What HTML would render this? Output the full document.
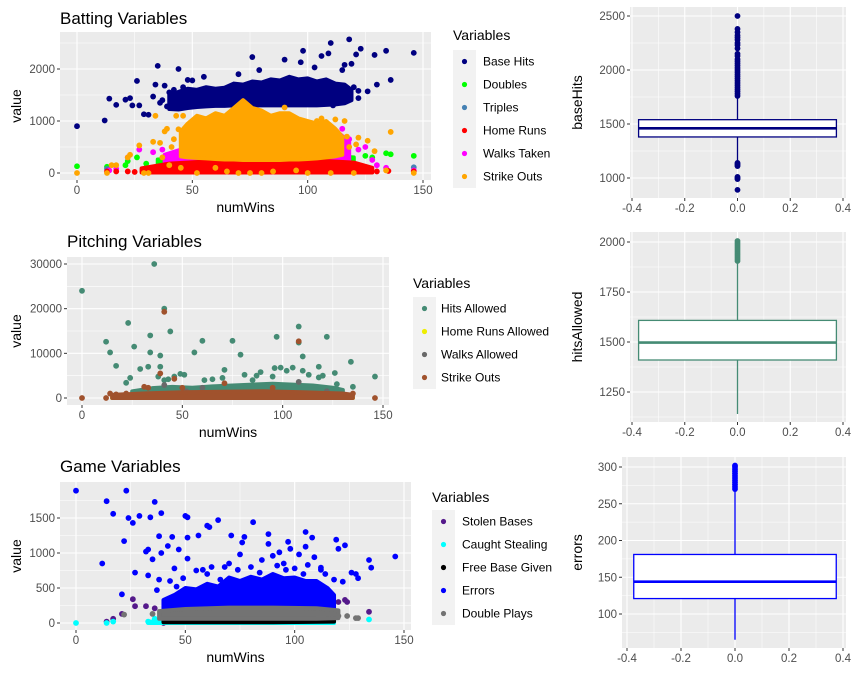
<!DOCTYPE html>
<html><head><meta charset="utf-8">
<style>
html,body{margin:0;padding:0;background:#fff;}
svg{display:block;font-family:"Liberation Sans",Arial,sans-serif;}
</style></head>
<body>
<svg id="chart" width="854" height="675" viewBox="0 0 854 675"></svg>
<script>
// ---------- DATA ----------
// Batting panel
const batBins = [40,44,48,52,56,60,64,68,72,76,80,84,88,92,96,100,104,108,112,116,119];
const baseHitsLo = [1230,1220,1250,1270,1280,1290,1290,1300,1300,1300,1300,1300,1300,1300,1300,1300,1300,1310,1320,1340,1400];
const baseHitsHi = [1500,1560,1620,1600,1650,1620,1640,1720,1700,1760,1740,1800,1780,1850,1800,1820,1760,1800,1720,1700,1600];
const baseHitsOut = [[0,900],[12,1010],[14,1430],[17,1310],[21,1410],[23,1440],[24,1300],[26,1770],[27,1300],[29,1130],[31,1120],[33,1470],[34,1700],[35,2060],[36,1350],[38,1680],[39,1280],[42,1600],[44,2000],[46,1650],[48,1790],[50,1780],[55,1850],[70,1900],[76,2230],[79,1980],[90,2180],[97,2130],[98,2350],[103,2030],[106,2250],[109,2300],[110,2500],[116,2080],[118,2570],[121,2280],[123,2390],[126,1570],[129,2270],[130,1700],[134,2350],[136,1790],[146,2310],[119,2100],[122,1440],[111,1300],[115,1980],[40,1550],[43,1480],[37,1400],[120,1650],[122,1580],[117,1620]];
const soBins = [45,48,52,56,60,64,68,72,76,80,84,88,92,96,100,104,108,112,115];
const soLo = [320,300,290,280,270,260,260,250,250,250,250,250,260,260,270,280,300,320,350];
const soHi = [800,950,1100,1050,1150,1100,1250,1400,1250,1200,1100,1150,1150,1050,1000,950,1000,850,700];
const soOut = [[0,0],[13,0],[15,150],[17,150],[22,300],[23,350],[27,530],[29,0],[31,0],[33,600],[34,1100],[36,580],[37,300],[38,800],[39,850],[40,150],[43,1100],[44,840],[46,1100],[49,950],[52,0],[60,100],[70,0],[75,0],[80,0],[90,1260],[100,0],[104,1000],[106,1050],[111,350],[112,1030],[116,1000],[117,700],[121,550],[122,680],[126,620],[129,420],[134,50],[136,790],[146,0],[110,0],[120,0],[95,50],[85,30],[65,30],[45,100],[42,650],[41,500],[118,500]];
const walksBins = [38,45,50,60,70,80,90,100,108,114,118];
const walksLo = [150,150,120,100,100,100,100,100,120,150,150];
const walksHi = [350,450,480,500,500,500,500,550,650,750,600];
const walksOut = [[22,300],[27,450],[33,400],[37,450],[115,850],[118,650],[122,450],[125,500],[128,250],[130,150],[134,100],[146,50],[14,50],[17,80]];
const dblBins = [35,50,70,90,110,120];
const dblLo = [150,150,150,150,150,150];
const dblHi = [260,290,300,300,320,300];
const dblOut = [[0,130],[13,120],[21,150],[22,230],[26,300],[30,180],[117,400],[125,330],[128,300],[134,380],[136,360],[146,330]];
const triOut = [[13,80],[146,110],[120,100],[105,60]];
const hrBins = [28,40,60,80,100,120,128];
const hrLo = [10,10,10,10,10,10,10];
const hrHi = [90,180,230,260,250,200,100];
const hrOut = [[13,30],[17,30],[22,30],[135,40],[146,30],[25,20],[130,30]];

// Pitching panel
const pitBins = [25,35,45,55,65,75,85,95,105,115,125,130];
const haLo = [0,0,0,0,0,0,0,0,0,0,0,0];
const haHi = [1500,2200,2500,2300,2600,2800,3000,3200,3000,2800,2300,1800];
const haOut = [[0,24000],[12,12600],[14,10200],[17,7200],[22,3400],[23,16800],[24,4500],[26,11500],[29,6500],[33,7000],[34,14000],[34,10200],[36,30000],[38,4800],[39,9500],[39,7000],[41,20000],[41,4000],[43,4200],[44,14900],[46,4800],[49,5400],[51,5200],[56,10200],[60,12800],[61,4000],[65,4200],[71,6300],[75,12800],[79,9700],[81,5200],[87,5000],[89,5800],[96,6700],[97,13700],[99,6800],[102,6100],[105,6800],[108,16000],[108,12400],[110,9300],[110,6100],[113,5200],[118,7000],[118,4600],[120,5000],[122,13700],[126,5600],[127,3100],[134,8100],[135,2500],[146,4800],[95,4800],[70,4500],[85,4000]];
const hraBins = [15,40,80,120,135];
const hraLo = [0,0,0,0,0];
const hraHi = [100,150,150,150,100];
const waBins = [20,40,70,100,130];
const waLo = [0,0,0,0,0];
const waHi = [700,900,1000,1000,800];
const waOut = [[41,2900],[60,2300],[108,3600],[122,1500],[52,1500]];
const psoBins = [15,30,50,70,90,110,130,135];
const psoLo = [0,0,0,0,0,0,0,0];
const psoHi = [700,1000,1300,1400,1500,1300,1000,700];
const psoOut = [[0,0],[12,0],[14,1000],[17,800],[22,1000],[31,2500],[33,2300],[39,5500],[41,19300],[46,4300],[50,2300],[71,3300],[95,2300],[108,12700],[135,1000],[146,0],[129,500],[134,200]];

// Game panel
const errBins = [40,45,50,55,60,65,70,75,80,85,90,95,100,105,110,115,118];
const errLo = [200,200,200,200,200,200,200,200,200,200,200,200,200,200,200,210,220];
const errHi = [330,400,500,480,560,520,650,600,660,620,700,640,650,600,600,500,400];
const errOut = [[0,1890],[12,850],[14,1740],[17,1560],[21,410],[22,1170],[23,1890],[24,1500],[26,1430],[27,720],[29,1530],[32,1020],[33,680],[33,1050],[34,1510],[35,910],[36,1730],[37,470],[38,1240],[38,620],[39,1570],[39,1000],[42,1100],[44,1230],[45,780],[47,1050],[49,640],[50,1530],[51,1510],[51,1220],[51,920],[56,1250],[60,1390],[61,1370],[62,800],[65,1470],[71,1250],[75,980],[76,1150],[77,1230],[81,1440],[88,1270],[88,1130],[90,960],[93,1010],[97,1160],[98,1060],[102,980],[105,1300],[105,1090],[106,830],[108,1220],[109,940],[112,790],[119,1190],[120,1060],[123,1110],[118,620],[122,590],[126,720],[128,700],[129,640],[134,900],[135,790],[146,950],[60,700],[70,850],[85,900],[95,850],[55,750],[80,800],[100,780],[66,620],[74,760],[92,820],[104,700],[43,600],[46,520],[58,760],[68,800],[84,720],[96,760],[112,760],[114,700]];
const sbOut = [[21,130],[26,340],[27,240],[32,240],[36,210],[17,60],[14,20],[120,300],[123,330],[124,300],[134,160],[105,500],[110,550],[100,600],[40,0],[95,450]];
const csBins = [33,60,90,118];
const csLo = [0,0,0,0];
const csHi = [20,20,20,30];
const csOut = [[0,0],[14,0],[17,20],[33,20],[134,50],[36,60],[50,30],[70,20],[110,30]];
const fbBins = [40,60,90,118];
const fbLo = [10,10,10,20];
const fbHi = [50,50,50,50];
const dpBins = [38,50,70,90,110,120];
const dpLo = [60,60,60,60,60,70];
const dpHi = [170,200,220,220,210,180];
const dpOut = [[22,120],[35,130],[120,100],[124,100],[128,70],[129,70]];

// Boxplots
const boxBH = [1160,1380,1460,1540,1750];  // whiskerLo, q1, median, q3, whiskerHi
const boxBHOut = [2500,2380,2350,2320,2300,2280,2250,2230,2200,2150,2130,2100,2080,2060,2040,2020,2000,1980,1960,1940,1920,1900,1880,1860,1840,1820,1800,1780,1760,1140,1130,1120,1110,1010,1000,990,890];
const boxHA = [1140,1410,1497,1608,1900];
const boxHAOut = [1905,1915,1925,1935,1945,1955,1965,1975,1985,1995,2005];
const boxER = [65,121,144,181,268];
const boxEROut = [270,273,276,279,282,285,288,291,294,297,300,302];

// Ticks
const winTicks = [0,50,100,150];
const boxXTicks = [-0.4,-0.2,0,0.2,0.4];
const boxXLabels = ["-0.4","-0.2","0.0","0.2","0.4"];

// ---------- DRAWING ----------
const NS = "http://www.w3.org/2000/svg";
const svg = document.getElementById('chart');
function mk(tag, attrs, parent) {
  const e = document.createElementNS(NS, tag);
  for (const k in attrs) e.setAttribute(k, attrs[k]);
  (parent || svg).appendChild(e);
  return e;
}
function txt(s, attrs, parent) { const t = mk('text', attrs, parent); t.textContent = s; return t; }

function linScale(d0, p0, d1, p1) { return v => p0 + (v - d0) * (p1 - p0) / (d1 - d0); }

function drawFrame(p) {
  const g = mk('g', {});
  
  
  const bg = mk('rect', {x:p.l, y:p.t, width:p.r-p.l, height:p.b-p.t, fill:'#EBEBEB'}, g);
  
  
  p.xMinor.forEach(v => { const x=p.fx(v); if (x>p.l && x<p.r) mk('line',{x1:x,x2:x,y1:p.t,y2:p.b,stroke:'#fff','stroke-width':0.55},g); });
  p.yMinor.forEach(v => { const y=p.fy(v); if (y>p.t && y<p.b) mk('line',{x1:p.l,x2:p.r,y1:y,y2:y,stroke:'#fff','stroke-width':0.55},g); });
  p.xTicks.forEach((v,i) => {
    const x=p.fx(v);
    mk('line',{x1:x,x2:x,y1:p.t,y2:p.b,stroke:'#fff','stroke-width':1.1},g);
    mk('line',{x1:x,x2:x,y1:p.b,y2:p.b+3,stroke:'#333','stroke-width':1},g);
    const t = txt(p.xLabels ? p.xLabels[i] : String(v), {x:x, y:p.b+14, 'text-anchor':'middle','font-size':11.5, fill:'#4D4D4D'}, g);
    
    
  });
  p.yTicks.forEach(v => {
    const y=p.fy(v);
    mk('line',{x1:p.l,x2:p.r,y1:y,y2:y,stroke:'#fff','stroke-width':1.1},g);
    mk('line',{x1:p.l-3,x2:p.l,y1:y,y2:y,stroke:'#333','stroke-width':1},g);
    const t = txt(String(v), {x:p.l-5, y:y+4, 'text-anchor':'end','font-size':11.5, fill:'#4D4D4D'}, g);
    
    
  });
  if (p.xTitle) {
    const t = txt(p.xTitle, {x:(p.l+p.r)/2, y:p.b+32, 'text-anchor':'middle','font-size':14, fill:'#000'}, g);
    
    
  }
  const yt = txt(p.yTitle, {x:0, y:0, 'text-anchor':'middle','font-size':14, fill:'#000', transform:`translate(${p.yTitleX},${(p.t+p.b)/2}) rotate(-90)`}, g);
  
  
  if (p.title) {
    const tt = txt(p.title, {x:p.titleX, y:p.titleY, 'font-size':17, fill:'#000'}, g);
    
    
  }
  const clipId = 'clip-' + p.name;
  const cp = mk('clipPath', {id:clipId}, g);
  mk('rect', {x:p.l, y:p.t, width:p.r-p.l, height:p.b-p.t}, cp);
  const marks = mk('g', {'clip-path':`url(#${clipId})`}, g);
  
  
  return marks;
}

function band(g, p, bins, lo, hi, color, name) {
  const pts = [];
  bins.forEach((b,i) => pts.push(p.fx(b) + ',' + p.fy(hi[i])));
  for (let i = bins.length-1; i >= 0; i--) pts.push(p.fx(bins[i]) + ',' + p.fy(lo[i]));
  const poly = mk('polygon', {points:pts.join(' '), fill:color, stroke:color, 'stroke-width':4, 'stroke-linejoin':'round'}, g);
  
  
}
function points(g, p, arr, color, name) {
  arr.forEach(d => {
    const c = mk('circle', {cx:p.fx(d[0]), cy:p.fy(d[1]), r:2.9, fill:color}, g);
    
    
  });
}
function legend(x, titleY, bgY, textX, title, entries, name) {
  const g = mk('g', {});
  
  
  const t = txt(title, {x:x, y:titleY, 'font-size':14, fill:'#000'}, g);
  
  
  mk('rect', {x:x, y:bgY, width:23, height:entries.length*23, fill:'#F2F2F2'}, g);
  entries.forEach((e,i) => {
    const cy = bgY + 11.5 + i*23;
    const item = mk('g', {}, g);
    
    
    mk('circle', {cx:x+11.5, cy:cy, r:2.6, fill:e[1]}, item);
    txt(e[0], {x:textX, y:cy+4, 'font-size':12, fill:'#000'}, item);
  });
}

// ---- Batting scatter ----
const P1 = {name:'batting', l:60, r:431, t:32, b:180, fx:linScale(0,77,150,423), fy:linScale(0,173,2000,69),
  xTicks:winTicks, xMinor:[25,75,125], yTicks:[0,1000,2000], yMinor:[500,1500,2500],
  xTitle:'numWins', yTitle:'value', yTitleX:21, title:'Batting Variables', titleX:60, titleY:24};
const g1 = drawFrame(P1);
band(g1,P1,batBins,baseHitsLo,baseHitsHi,'#000080','base-hits'); points(g1,P1,baseHitsOut,'#000080','base-hits');
band(g1,P1,dblBins,dblLo,dblHi,'#00FF00','doubles'); points(g1,P1,dblOut,'#00FF00','doubles');
points(g1,P1,triOut,'#4682B4','triples');
band(g1,P1,walksBins,walksLo,walksHi,'#FF00FF','walks-taken'); points(g1,P1,walksOut,'#FF00FF','walks-taken');
band(g1,P1,hrBins,hrLo,hrHi,'#FF0000','home-runs'); points(g1,P1,hrOut,'#FF0000','home-runs');
band(g1,P1,soBins,soLo,soHi,'#FFA500','strike-outs'); points(g1,P1,soOut,'#FFA500','strike-outs');
legend(453, 40, 50, 483, 'Variables', [['Base Hits','#000080'],['Doubles','#00FF00'],['Triples','#4682B4'],['Home Runs','#FF0000'],['Walks Taken','#FF00FF'],['Strike Outs','#FFA500']], 'batting-legend');

// ---- Pitching scatter ----
const P2 = {name:'pitching', l:67, r:389, t:257, b:405, fx:linScale(0,82,150,383), fy:linScale(0,398,30000,264),
  xTicks:winTicks, xMinor:[25,75,125], yTicks:[0,10000,20000,30000], yMinor:[5000,15000,25000],
  xTitle:'numWins', yTitle:'value', yTitleX:21, title:'Pitching Variables', titleX:67, titleY:247};
const g2 = drawFrame(P2);
band(g2,P2,pitBins,haLo,haHi,'#458B74','hits-allowed'); points(g2,P2,haOut,'#458B74','hits-allowed');
band(g2,P2,hraBins,hraLo,hraHi,'#EEEE00','home-runs-allowed');
band(g2,P2,waBins,waLo,waHi,'#696969','walks-allowed'); points(g2,P2,waOut,'#696969','walks-allowed');
band(g2,P2,psoBins,psoLo,psoHi,'#A0522D','pitching-strike-outs'); points(g2,P2,psoOut,'#A0522D','pitching-strike-outs');
legend(413, 288, 297, 441, 'Variables', [['Hits Allowed','#458B74'],['Home Runs Allowed','#EEEE00'],['Walks Allowed','#696969'],['Strike Outs','#A0522D']], 'pitching-legend');

// ---- Game scatter ----
const P3 = {name:'game', l:60, r:411, t:482, b:630, fx:linScale(0,76,150,404), fy:linScale(0,623,1500,518),
  xTicks:winTicks, xMinor:[25,75,125], yTicks:[0,500,1000,1500], yMinor:[250,750,1250,1750],
  xTitle:'numWins', yTitle:'value', yTitleX:21, title:'Game Variables', titleX:60, titleY:472};
const g3 = drawFrame(P3);
points(g3,P3,sbOut,'#551A8B','stolen-bases');
band(g3,P3,csBins,csLo,csHi,'#00FFFF','caught-stealing'); points(g3,P3,csOut,'#00FFFF','caught-stealing');
band(g3,P3,fbBins,fbLo,fbHi,'#000000','free-base-given');
band(g3,P3,errBins,errLo,errHi,'#0000FF','errors'); points(g3,P3,errOut,'#0000FF','errors');
band(g3,P3,dpBins,dpLo,dpHi,'#737373','double-plays'); points(g3,P3,dpOut,'#737373','double-plays');
legend(432, 502, 510, 462, 'Variables', [['Stolen Bases','#551A8B'],['Caught Stealing','#00FFFF'],['Free Base Given','#000000'],['Errors','#0000FF'],['Double Plays','#737373']], 'game-legend');

// ---- Boxplots ----
function boxplot(p, stats, outs, color, name) {
  const g = drawFrame(p);
  const x0 = p.fx(-0.375), x1 = p.fx(0.375), xc = p.fx(0);
  const w1 = mk('line', {x1:xc, x2:xc, y1:p.fy(stats[0]), y2:p.fy(stats[1]), stroke:color, 'stroke-width':1.3}, g);
  
  
  const w2 = mk('line', {x1:xc, x2:xc, y1:p.fy(stats[3]), y2:p.fy(stats[4]), stroke:color, 'stroke-width':1.3}, g);
  
  
  const bx = mk('rect', {x:x0, y:p.fy(stats[3]), width:x1-x0, height:p.fy(stats[1])-p.fy(stats[3]), fill:'#fff', stroke:color, 'stroke-width':1.3}, g);
  
  
  const md = mk('line', {x1:x0, x2:x1, y1:p.fy(stats[2]), y2:p.fy(stats[2]), stroke:color, 'stroke-width':2.6}, g);
  
  
  outs.forEach(v => {
    const c = mk('circle', {cx:xc, cy:p.fy(v), r:2.9, fill:color}, g);
    
    
  });
}
const B1 = {name:'basehits-box', l:630, r:846, t:7, b:198, fx:linScale(-0.4,632,0.4,843), fy:linScale(1000,178,2500,16),
  xTicks:boxXTicks, xLabels:boxXLabels, xMinor:[-0.3,-0.1,0.1,0.3], yTicks:[1000,1500,2000,2500], yMinor:[750,1250,1750,2250],
  yTitle:'baseHits', yTitleX:582};
boxplot(B1, boxBH, boxBHOut, '#000080', 'basehits');
const B2 = {name:'hitsallowed-box', l:630, r:846, t:232, b:422, fx:linScale(-0.4,632,0.4,843), fy:linScale(1250,392,2000,242),
  xTicks:boxXTicks, xLabels:boxXLabels, xMinor:[-0.3,-0.1,0.1,0.3], yTicks:[1250,1500,1750,2000], yMinor:[1125,1375,1625,1875],
  yTitle:'hitsAllowed', yTitleX:582};
boxplot(B2, boxHA, boxHAOut, '#458B74', 'hitsallowed');
const B3 = {name:'errors-box', l:622, r:846, t:457, b:648, fx:linScale(-0.4,627,0.4,843), fy:linScale(100,614,300,467),
  xTicks:boxXTicks, xLabels:boxXLabels, xMinor:[-0.3,-0.1,0.1,0.3], yTicks:[100,150,200,250,300], yMinor:[75,125,175,225,275],
  yTitle:'errors', yTitleX:582};
boxplot(B3, boxER, boxEROut, '#0000FF', 'errors');
</script>
</body></html>
